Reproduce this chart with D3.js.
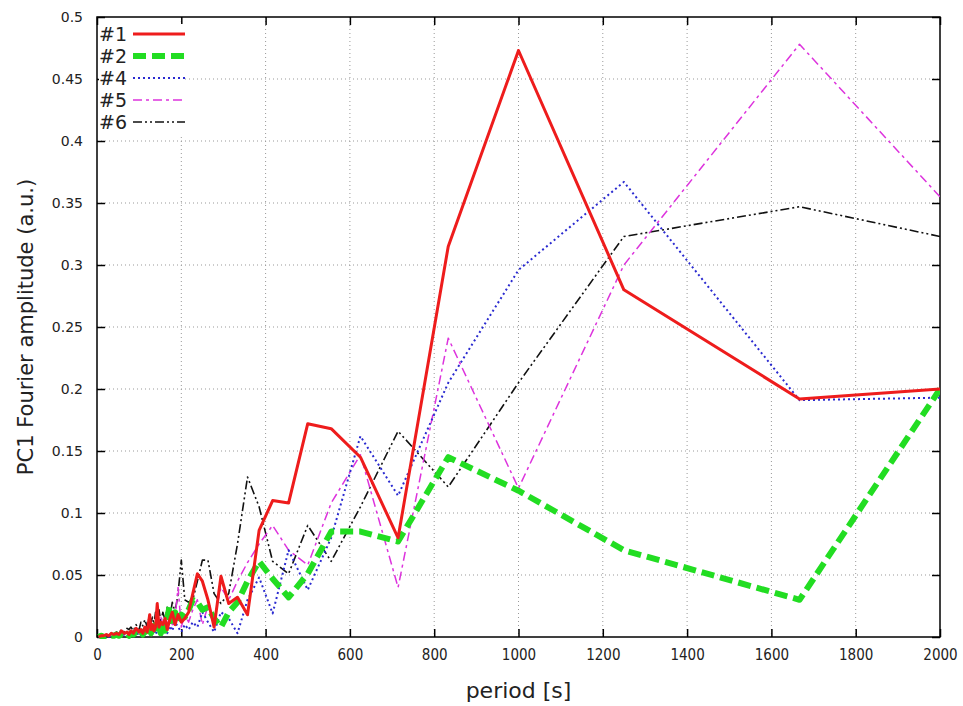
<!DOCTYPE html>
<meta charset="utf-8">
<script src="https://d3js.org/d3.v7.min.js"></script>
<style>
  body { margin: 0; background: #fff; }
  text { font-family: "DejaVu Sans", Verdana, sans-serif; fill: #222; }
</style>
<div id="chart"></div>
<script>
// periods (s) of the Fourier components
var periods = [2000, 1666.7, 1250, 1000, 833.3, 714.3, 625, 555.6, 500, 454.5,
  416.7, 384.6, 357.1, 333.3, 312.5, 294.1, 277.8, 263.2, 250, 238.1,
  227.3, 217.4, 208.3, 200, 192.3, 185.2, 178.6, 172.4, 166.7, 161.3,
  156.3, 151.5, 147.1, 142.9, 138.9, 135.1, 131.6, 128.2, 125, 119,
  113.6, 108.7, 104.2, 100, 92.6, 86.2, 80.6, 75.8, 71.4, 65,
  58, 52, 46, 40, 34, 28, 22, 16, 10, 4];

var s1 = [0.200, 0.192, 0.280, 0.473, 0.315, 0.080, 0.145, 0.168, 0.172, 0.108,
  0.110, 0.086, 0.018, 0.032, 0.027, 0.049, 0.008, 0.030, 0.045, 0.051,
  0.035, 0.020, 0.015, 0.012, 0.018, 0.010, 0.020, 0.014, 0.006, 0.015,
  0.010, 0.012, 0.008, 0.027, 0.008, 0.005, 0.010, 0.006, 0.018, 0.004,
  0.008, 0.003, 0.006, 0.004, 0.007, 0.003, 0.005, 0.002, 0.004, 0.003,
  0.005, 0.002, 0.003, 0.002, 0.003, 0.001, 0.002, 0.001, 0.001, 0.000];

var s2 = [0.200, 0.030, 0.070, 0.118, 0.145, 0.077, 0.085, 0.085, 0.051, 0.032,
  0.047, 0.061, 0.045, 0.028, 0.020, 0.008, 0.015, 0.024, 0.022, 0.028,
  0.030, 0.022, 0.016, 0.018, 0.012, 0.020, 0.010, 0.025, 0.015, 0.005,
  0.012, 0.003, 0.008, 0.004, 0.010, 0.002, 0.006, 0.003, 0.007, 0.002,
  0.005, 0.002, 0.004, 0.001, 0.004, 0.002, 0.003, 0.001, 0.003, 0.001,
  0.002, 0.001, 0.002, 0.001, 0.001, 0.001, 0.001, 0.000, 0.001, 0.000];

var s4 = [0.193, 0.191, 0.367, 0.296, 0.205, 0.114, 0.162, 0.080, 0.038, 0.070,
  0.019, 0.048, 0.030, 0.003, 0.015, 0.020, 0.004, 0.012, 0.020, 0.008,
  0.012, 0.006, 0.010, 0.004, 0.008, 0.012, 0.005, 0.009, 0.003, 0.006,
  0.004, 0.008, 0.003, 0.005, 0.002, 0.006, 0.003, 0.004, 0.002, 0.005,
  0.002, 0.003, 0.001, 0.003, 0.002, 0.002, 0.001, 0.002, 0.001, 0.002,
  0.001, 0.001, 0.001, 0.001, 0.001, 0.000, 0.001, 0.000, 0.000, 0.000];

var s5 = [0.355, 0.478, 0.300, 0.120, 0.241, 0.040, 0.147, 0.108, 0.058, 0.070,
  0.090, 0.075, 0.060, 0.045, 0.030, 0.040, 0.015, 0.025, 0.010, 0.030,
  0.022, 0.012, 0.018, 0.008, 0.040, 0.015, 0.010, 0.018, 0.008, 0.014,
  0.010, 0.016, 0.006, 0.012, 0.005, 0.010, 0.004, 0.008, 0.005, 0.008,
  0.004, 0.006, 0.003, 0.005, 0.003, 0.004, 0.002, 0.003, 0.002, 0.002,
  0.001, 0.002, 0.001, 0.001, 0.001, 0.001, 0.000, 0.001, 0.000, 0.000];

var s6 = [0.323, 0.347, 0.323, 0.205, 0.121, 0.166, 0.105, 0.061, 0.090, 0.051,
  0.061, 0.105, 0.129, 0.075, 0.035, 0.027, 0.035, 0.062, 0.062, 0.045,
  0.030, 0.028, 0.030, 0.062, 0.035, 0.020, 0.028, 0.015, 0.024, 0.014,
  0.020, 0.012, 0.022, 0.014, 0.020, 0.010, 0.016, 0.012, 0.018, 0.008,
  0.014, 0.009, 0.012, 0.006, 0.010, 0.005, 0.008, 0.006, 0.007, 0.004,
  0.006, 0.003, 0.004, 0.002, 0.003, 0.002, 0.002, 0.001, 0.001, 0.000];

var xTicks = [0, 200, 400, 600, 800, 1000, 1200, 1400, 1600, 1800, 2000];
var yTicks = [0, 0.05, 0.1, 0.15, 0.2, 0.25, 0.3, 0.35, 0.4, 0.45, 0.5];

var series = [
  {name: "#1", values: s1, color: "#ee1c1c", width: 3, dash: null},
  {name: "#2", values: s2, color: "#22dd22", width: 6, dash: "13,6"},
  {name: "#4", values: s4, color: "#2a2ad0", width: 2, dash: "2,3"},
  {name: "#5", values: s5, color: "#dd33dd", width: 1.5, dash: "9,4,3,4"},
  {name: "#6", values: s6, color: "#111111", width: 1.6, dash: "9,3,2,3,2,3"}
];

var W = 963, H = 706;
var margin = {top: 17, right: 23, bottom: 69, left: 97},
    width = W - margin.left - margin.right,
    height = H - margin.top - margin.bottom;

var svg = d3.select("#chart").append("svg")
    .attr("width", W).attr("height", H);
var g = svg.append("g")
    .attr("transform", "translate(" + margin.left + "," + margin.top + ")");

var x = d3.scaleLinear().domain([0, 2000]).range([0, width]);
var y = d3.scaleLinear().domain([0, 0.5]).range([height, 0]);

// grid
g.selectAll(".vgrid").data(xTicks.slice(1, -1)).enter().append("line")
  .attr("x1", d => x(d)).attr("x2", d => x(d))
  .attr("y1", 0).attr("y2", height)
  .attr("stroke", "#999").attr("stroke-width", 1).attr("stroke-dasharray", "1,3");
g.selectAll(".hgrid").data(yTicks.slice(1, -1)).enter().append("line")
  .attr("y1", d => y(d)).attr("y2", d => y(d))
  .attr("x1", 0).attr("x2", width)
  .attr("stroke", "#999").attr("stroke-width", 1).attr("stroke-dasharray", "1,3");

// axes with inward ticks
var xb = g.append("g").attr("transform", "translate(0," + height + ")")
  .call(d3.axisBottom(x).tickValues(xTicks).tickSize(-8).tickPadding(12).tickFormat(d3.format("d")));
var xt = g.append("g")
  .call(d3.axisTop(x).tickValues(xTicks).tickSize(-8).tickFormat(""));
var yl = g.append("g")
  .call(d3.axisLeft(y).tickValues(yTicks).tickSize(-8).tickPadding(14).tickFormat(d => d === 0 ? "0" : d3.format("")(d)));
var yr = g.append("g").attr("transform", "translate(" + width + ",0)")
  .call(d3.axisRight(y).tickValues(yTicks).tickSize(-8).tickFormat(""));
[xb, xt, yl, yr].forEach(a => {
  a.select(".domain").remove();
  a.selectAll(".tick line").attr("stroke", "#000").attr("stroke-width", 1.5);
});
xb.selectAll("text").attr("font-size", 15).attr("font-family", "DejaVu Sans Condensed, DejaVu Sans")
  .style("font-stretch", "condensed").attr("fill", "#222");
yl.selectAll("text").attr("font-size", 14).attr("fill", "#222");

g.append("rect").attr("width", width).attr("height", height)
  .attr("fill", "none").attr("stroke", "#000").attr("stroke-width", 1.5);

// data lines
g.append("clipPath").attr("id", "clip").append("rect")
  .attr("width", width).attr("height", height + 4).attr("y", -2);

var line = d3.line()
  .x((d, i) => x(periods[i]))
  .y(d => y(d));

var lines = g.append("g").attr("clip-path", "url(#clip)");
series.slice().reverse().forEach(s => {
  lines.append("path")
    .attr("d", line(s.values))
    .attr("fill", "none")
    .attr("stroke", s.color)
    .attr("stroke-width", s.width)
    .attr("stroke-dasharray", s.dash)
    .attr("stroke-linejoin", "round");
});

// legend
var leg = g.append("g").attr("transform", "translate(2,17)");
series.forEach((s, i) => {
  var row = leg.append("g").attr("transform", "translate(0," + (i * 22) + ")");
  row.append("rect").attr("x", 0).attr("y", -10).attr("width", 84).attr("height", 22).attr("fill", "#fff");
  row.append("text").attr("x", 0).attr("y", 7).attr("font-size", 19).text(s.name);
  row.append("line").attr("x1", 34).attr("x2", 86).attr("y1", 0).attr("y2", 0)
    .attr("stroke", s.color).attr("stroke-width", s.width)
    .attr("stroke-dasharray", s.dash);
});

// axis titles
svg.append("text")
  .attr("x", margin.left + width / 2).attr("y", 698)
  .attr("text-anchor", "middle").attr("font-size", 22)
  .text("period [s]");
svg.append("text")
  .attr("transform", "translate(33," + (margin.top + height / 2) + ") rotate(-90)")
  .attr("text-anchor", "middle").attr("font-size", 21)
  .text("PC1 Fourier amplitude (a.u.)");
</script>
